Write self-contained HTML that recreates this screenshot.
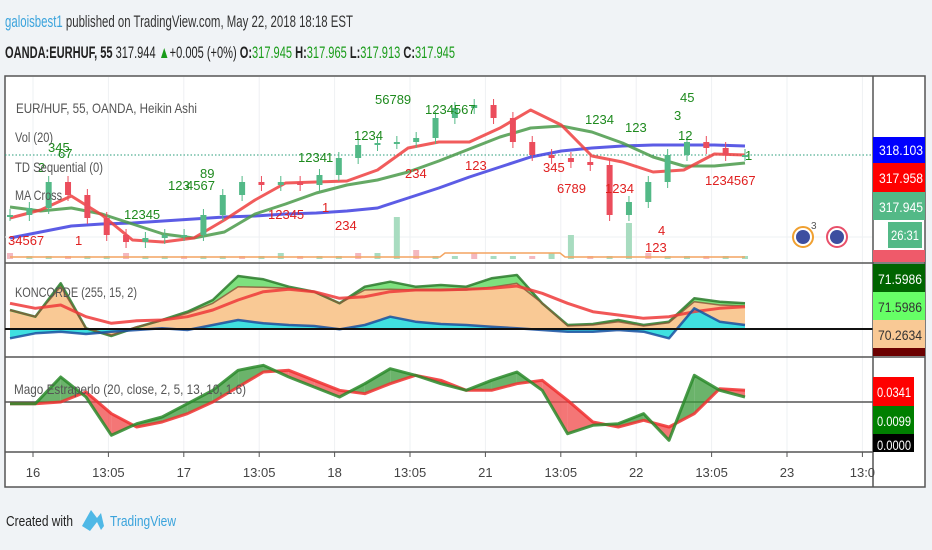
<!DOCTYPE html>
<html><head><meta charset="utf-8"><style>
html,body{margin:0;padding:0;background:#f0f3f6;}
svg{display:block;font-family:"Liberation Sans",sans-serif;}
</style></head><body>
<svg id="chart" width="932" height="550" viewBox="0 0 932 550">
<rect x="0" y="0" width="932" height="550" fill="#f0f3f6"/>
<text x="5" y="27" font-size="17" textLength="348" lengthAdjust="spacingAndGlyphs" fill="#333"><tspan fill="#3aa3dc">galoisbest1</tspan> published on TradingView.com, May 22, 2018 18:18 EST</text>
<text x="5" y="58" font-size="17" font-weight="bold" textLength="450" lengthAdjust="spacingAndGlyphs" fill="#222">OANDA:EURHUF, 55 <tspan font-weight="normal">317.944</tspan> <tspan fill="#1a9c1a">▲</tspan><tspan font-weight="normal">+0.005 (+0%)</tspan> O:<tspan fill="#1a9c1a" font-weight="normal">317.945</tspan> H:<tspan fill="#1a9c1a" font-weight="normal">317.965</tspan> L:<tspan fill="#1a9c1a" font-weight="normal">317.913</tspan> C:<tspan fill="#1a9c1a" font-weight="normal">317.945</tspan></text>
<rect x="5" y="76" width="920" height="411" fill="#fff" stroke="#555" stroke-width="1.5"/>
<g id="grid"></g>
<g id="main"></g>
<g id="konc"></g>
<g id="mago"></g>
<line x1="5" y1="263" x2="925" y2="263" stroke="#555" stroke-width="1.5"/>
<line x1="5" y1="357" x2="925" y2="357" stroke="#555" stroke-width="1.5"/>
<line x1="5" y1="452" x2="873" y2="452" stroke="#555" stroke-width="1.5"/>
<line x1="873" y1="76" x2="873" y2="487" stroke="#555" stroke-width="1.5"/>
<g id="axis" font-size="12"></g>
<g font-size="14" fill="#555">
<text x="16" y="113" textLength="181" lengthAdjust="spacingAndGlyphs">EUR/HUF, 55, OANDA, Heikin Ashi</text>
<text x="15" y="142" textLength="38" lengthAdjust="spacingAndGlyphs">Vol (20)</text>
<text x="15" y="172" textLength="88" lengthAdjust="spacingAndGlyphs">TD Sequential (0)</text>
<text x="15" y="200" textLength="47" lengthAdjust="spacingAndGlyphs">MA Cross</text>
<text x="15" y="297" textLength="122" lengthAdjust="spacingAndGlyphs">KONCORDE (255, 15, 2)</text>
<text x="14" y="394" textLength="232" lengthAdjust="spacingAndGlyphs">Mago Estraperlo (20, close, 2, 5, 13, 10, 1.6)</text>
</g>
<g>
<circle cx="803" cy="237" r="10" fill="#fff" stroke="#f0a030" stroke-width="2"/>
<circle cx="803" cy="237" r="7" fill="#3d4ea0"/>
<text x="811" y="229" font-size="10" fill="#555">3</text>
<circle cx="837" cy="237" r="10" fill="#fff" stroke="#e8506a" stroke-width="2"/>
<circle cx="837" cy="237" r="7" fill="#3d4ea0"/>
</g>
<g font-size="14">
<rect x="873" y="137" width="52" height="26" fill="#0000ff"/><text x="879" y="155" fill="#fff" textLength="44" lengthAdjust="spacingAndGlyphs">318.103</text>
<rect x="873" y="163" width="52" height="29" fill="#f00"/><text x="879" y="183" fill="#fff" textLength="44" lengthAdjust="spacingAndGlyphs">317.958</text>
<rect x="873" y="192" width="52" height="28" fill="#53b987"/><text x="879" y="212" fill="#fff" textLength="44" lengthAdjust="spacingAndGlyphs">317.945</text>
<rect x="888" y="222" width="34" height="26" fill="#53b987"/><text x="891" y="240" fill="#fff" textLength="28" lengthAdjust="spacingAndGlyphs">26:31</text>
<rect x="873" y="250" width="52" height="12" fill="#ef5a6a"/>
<rect x="873" y="264" width="52" height="28" fill="#006400"/><text x="878" y="284" fill="#fff" textLength="44" lengthAdjust="spacingAndGlyphs">71.5986</text>
<rect x="873" y="292" width="52" height="28" fill="#66ff66"/><text x="878" y="312" fill="#333" textLength="44" lengthAdjust="spacingAndGlyphs">71.5986</text>
<rect x="873" y="320" width="52" height="28" fill="#f9c995"/><text x="878" y="340" fill="#333" textLength="44" lengthAdjust="spacingAndGlyphs">70.2634</text>
<rect x="873" y="348" width="52" height="8" fill="#6b0000"/>
<rect x="873" y="377" width="41" height="29" fill="#f00"/><text x="877" y="397" fill="#fff" textLength="34" lengthAdjust="spacingAndGlyphs">0.0341</text>
<rect x="873" y="406" width="41" height="28" fill="#007f00"/><text x="877" y="426" fill="#fff" textLength="34" lengthAdjust="spacingAndGlyphs">0.0099</text>
<rect x="873" y="434" width="41" height="18" fill="#000"/><text x="877" y="450" fill="#fff" textLength="34" lengthAdjust="spacingAndGlyphs">0.0000</text>
</g>
<g>
<text x="6" y="526" font-size="15" fill="#222" textLength="67" lengthAdjust="spacingAndGlyphs">Created with</text>
<path d="M82 526 L91 510 L97 518 L101 513 L104 526 L101 530 L97 522 L90 531 Z" fill="#4fb8e6"/>
<text x="110" y="526" font-size="15" fill="#3aa3dc" textLength="66" lengthAdjust="spacingAndGlyphs">TradingView</text>
</g>
</svg>
<script>
// ---- main pane data (Heikin Ashi closes, MAs) ----
const candleClose = [317.863,317.891,317.995,317.943,317.851,317.783,317.755,317.771,317.783,317.783,317.863,317.943,317.995,317.983,317.995,317.983,318.023,318.091,318.143,318.151,318.155,318.171,318.251,318.291,318.303,318.251,318.155,318.103,318.091,318.075,318.063,317.863,317.915,317.995,318.103,318.155,318.131,318.103,318.103];
const maFast = [317.851,317.883,317.939,317.863,317.763,317.755,317.771,317.843,317.923,317.991,317.995,317.999,318.043,318.131,318.155,318.155,318.211,318.283,318.223,318.099,318.075,318.035,318.043,318.107,318.103];
const maMid = [317.895,317.879,317.891,317.867,317.827,317.787,317.771,317.795,317.867,317.907,317.951,317.983,318.003,318.035,318.079,318.127,318.175,318.211,318.219,318.195,318.151,318.095,318.059,318.059,318.071];
const maSlow = [317.771,317.795,317.819,317.827,317.831,317.839,317.847,317.855,317.859,317.867,317.871,317.879,317.891,317.931,317.971,318.015,318.055,318.095,318.119,318.131,318.139,318.143,318.143,318.143,318.139];
// ---- volume ----
const volume = [2,1,1,1,1,1,2,1,1,1,1,1,1,1,2,1,1,1,2,2,14,3,1,1,2,1,1,1,2,8,1,1,12,2,1,1,1,1,1];
// ---- Koncorde ----
const koncGreen = [57,37,137,2,-21,5,27,52,87,159,149,127,112,77,127,142,127,132,127,152,162,77,12,15,27,12,22,92,82,77];
const koncBrown = [57,37,127,2,-18,7,25,47,77,127,125,122,112,77,117,119,117,117,117,125,137,77,9,12,22,9,19,82,72,69];
const koncRed = [77,62,72,37,17,25,27,37,57,87,112,119,112,92,97,112,117,117,119,122,129,107,77,52,42,32,37,52,62,67];
const koncBlue = [-28,-13,-8,-15,-8,-3,2,-3,12,27,17,12,9,-1,12,37,22,15,12,7,2,-3,-8,-8,-3,-8,-28,62,22,12];
// ---- Mago Estraperlo ----
const magoGreen = [-5,-5,75,15,-100,-65,-45,-5,35,95,110,75,45,15,55,100,80,55,35,65,90,35,-95,-70,-65,-35,-115,80,35,15];
const magoRed = [-5,-5,0,30,-35,-75,-60,-35,0,45,90,95,65,35,25,55,80,65,35,35,55,65,5,-60,-75,-55,-75,-35,40,35];
// ---- axis ----
const timeTicks = ["16","13:05","17","13:05","18","13:05","21","13:05","22","13:05","23","13:0"];
const timeTickPos = [0,1,2,3,4,5,6,7,8,9,10,11];
const tdGreen = [["1234",298,162],["1",326,162],["1234",354,140],["56789",375,104],["1234567",425,114],["123",168,190],["4567",186,190],["89",200,178],["12345",124,219],["12",678,140],["45",680,102],["3",674,120],["123",625,132],["1234",585,124],["1",745,160],["345",48,152],["2",38,172],["67",58,158]];
const tdRed = [["12345",268,219],["1",322,212],["234",335,230],["234",405,178],["123",465,170],["345",543,172],["6789",557,193],["1234",605,193],["1234567",705,185],["123",645,252],["4",658,235],["1",75,245],["34567",8,245]];

const NS="http://www.w3.org/2000/svg";
function mk(parent,tag,attrs){const e=document.createElementNS(NS,tag);for(const k in attrs)e.setAttribute(k,attrs[k]);parent.appendChild(e);return e;}
const X0=10,X1=745;
const xIdx=(i,n)=>X0+i*(X1-X0)/(n-1);
const yMain=v=>262-(v-317.675)/(318.415-317.675)*185;
const yVol=v=>259-v*3;
const yKonc=v=>357-(v+84)/(198+84)*94;
const yMago=v=>452-(v+150)/(135+150)*95;
const tickX=t=>33+t*75.4;

const grid=document.getElementById('grid');
timeTickPos.forEach((t,i)=>{
  const l=mk(grid,'line',{x1:tickX(t),y1:77,x2:tickX(t),y2:452,stroke:'#eef0f3','stroke-width':1});
  
  
});
[237,402].forEach(y=>{const l=mk(grid,'line',{x1:5,y1:y,x2:873,y2:y,stroke:'#eef0f3'});
  
  });

const main=document.getElementById('main');
volume.forEach((v,i)=>{
  const x=xIdx(i,volume.length);
  const r=mk(main,'rect',{x:x-3,y:yVol(v),width:6,height:259-yVol(v),fill:i%3===0?'#f4b8c0':'#a8dcc0'});
  
  
});
const dl=mk(main,'line',{x1:5,y1:yMain(318.103),x2:873,y2:yMain(318.103),stroke:'#2a9d7a','stroke-dasharray':'1.5,2'});


const vl=mk(main,'polyline',{points:'10,257 440,257 445,253 560,253 565,257 745,257',fill:'none',stroke:'#f4a460','stroke-width':1.5});


function line(g,arr,xf,yf,color,w,name){
  const pts=arr.map((v,i)=>xf(i,arr.length).toFixed(1)+','+yf(v).toFixed(1)).join(' ');
  const p=mk(g,'polyline',{points:pts,fill:'none',stroke:color,'stroke-width':w,'stroke-linejoin':'round','stroke-opacity':0.85});
  
  
  return p;
}
line(main,maSlow,xIdx,yMain,'#4040e0',3,'ma-slow-line');
line(main,maMid,xIdx,yMain,'#4a9a4a',3,'ma-mid-line');
line(main,maFast,xIdx,yMain,'#ef4040',3,'ma-fast-line');
candleClose.forEach((c,i)=>{
  const o=i>0?candleClose[i-1]:c;
  const x=xIdx(i,candleClose.length);
  const up=c>=o;const col=up?'#53b987':'#eb4d5c';
  const yt=Math.min(yMain(o),yMain(c)),yb=Math.max(yMain(o),yMain(c));
  const w=mk(main,'line',{x1:x,y1:yt-6,x2:x,y2:yb+6,stroke:col,'stroke-width':1});
  
  
  const r=mk(main,'rect',{x:x-3,y:yt,width:6,height:Math.max(2,yb-yt),fill:col});
  
  
});
tdGreen.forEach(d=>{const t=mk(main,'text',{x:d[1],y:d[2],'font-size':13,fill:'#1e8a1e'});t.textContent=d[0];
  
  });
tdRed.forEach(d=>{const t=mk(main,'text',{x:d[1],y:d[2],'font-size':13,fill:'#e02020'});t.textContent=d[0];
  
  });

// koncorde
const kg=document.getElementById('konc');
function area(g,top,bot,xf,yf,fill,name){
  const n=top.length;let pts=[];
  for(let i=0;i<n;i++)pts.push(xf(i,n).toFixed(1)+','+yf(top[i]).toFixed(1));
  for(let i=n-1;i>=0;i--)pts.push(xf(i,n).toFixed(1)+','+yf(bot===null?0:bot[i]).toFixed(1));
  const p=mk(g,'polygon',{points:pts.join(' '),fill:fill});
  
  
}
area(kg,koncGreen,koncBrown,xIdx,yKonc,'#7ee07e','koncorde-green-area');
area(kg,koncBrown,null,xIdx,yKonc,'#f9c995','koncorde-orange-area');
area(kg,koncBlue,null,xIdx,yKonc,'#40e0e0','koncorde-blue-area');
line(kg,koncGreen,xIdx,yKonc,'#2a7a2a',2.5,'koncorde-green-line');
line(kg,koncBrown,xIdx,yKonc,'#8a5a3a',1.5,'koncorde-brown-line');
line(kg,koncRed,xIdx,yKonc,'#ef3a3a',3,'koncorde-red-line');
line(kg,koncBlue,xIdx,yKonc,'#1a50a0',2.5,'koncorde-blue-line');
const zl=mk(kg,'line',{x1:5,y1:yKonc(0),x2:873,y2:yKonc(0),stroke:'#111','stroke-width':2});



// mago
const mg=document.getElementById('mago');
const mz=mk(mg,'line',{x1:5,y1:yMago(0),x2:873,y2:yMago(0),stroke:'#555','stroke-width':1.5});


const n=magoGreen.length;
for(let i=0;i<n-1;i++){
  const x1=xIdx(i,n),x2=xIdx(i+1,n);
  const d1=magoGreen[i]-magoRed[i],d2=magoGreen[i+1]-magoRed[i+1];
  const seg=(xa,ga,ra,xb,gb,rb,pos)=>{
    const p=mk(mg,'polygon',{points:`${xa},${yMago(ga)} ${xb},${yMago(gb)} ${xb},${yMago(rb)} ${xa},${yMago(ra)}`,fill:pos?'#3a9a3a':'#f04848','fill-opacity':0.75});
    
    
  };
  if(d1*d2<0){
    const t=d1/(d1-d2);const xc=x1+t*(x2-x1);
    const gc=magoGreen[i]+t*(magoGreen[i+1]-magoGreen[i]);
    seg(x1,magoGreen[i],magoRed[i],xc,gc,gc,d1>0);
    seg(xc,gc,gc,x2,magoGreen[i+1],magoRed[i+1],d2>0);
  } else seg(x1,magoGreen[i],magoRed[i],x2,magoGreen[i+1],magoRed[i+1],(d1+d2)>=0);
}
line(mg,magoRed,xIdx,yMago,'#f03030',3,'mago-red-line');
line(mg,magoGreen,xIdx,yMago,'#2a8a2a',3,'mago-green-line');

// time axis
const ax=document.getElementById('axis');
timeTickPos.forEach((t,i)=>{
  const tk=mk(ax,'line',{x1:tickX(t),y1:452,x2:tickX(t),y2:457,stroke:'#555'});
  
  
  const tx=mk(ax,'text',{x:tickX(t),y:477,'text-anchor':'middle',fill:'#444','font-size':13});
  tx.textContent=timeTicks[i];
  
  
});
</script>
</body></html>
